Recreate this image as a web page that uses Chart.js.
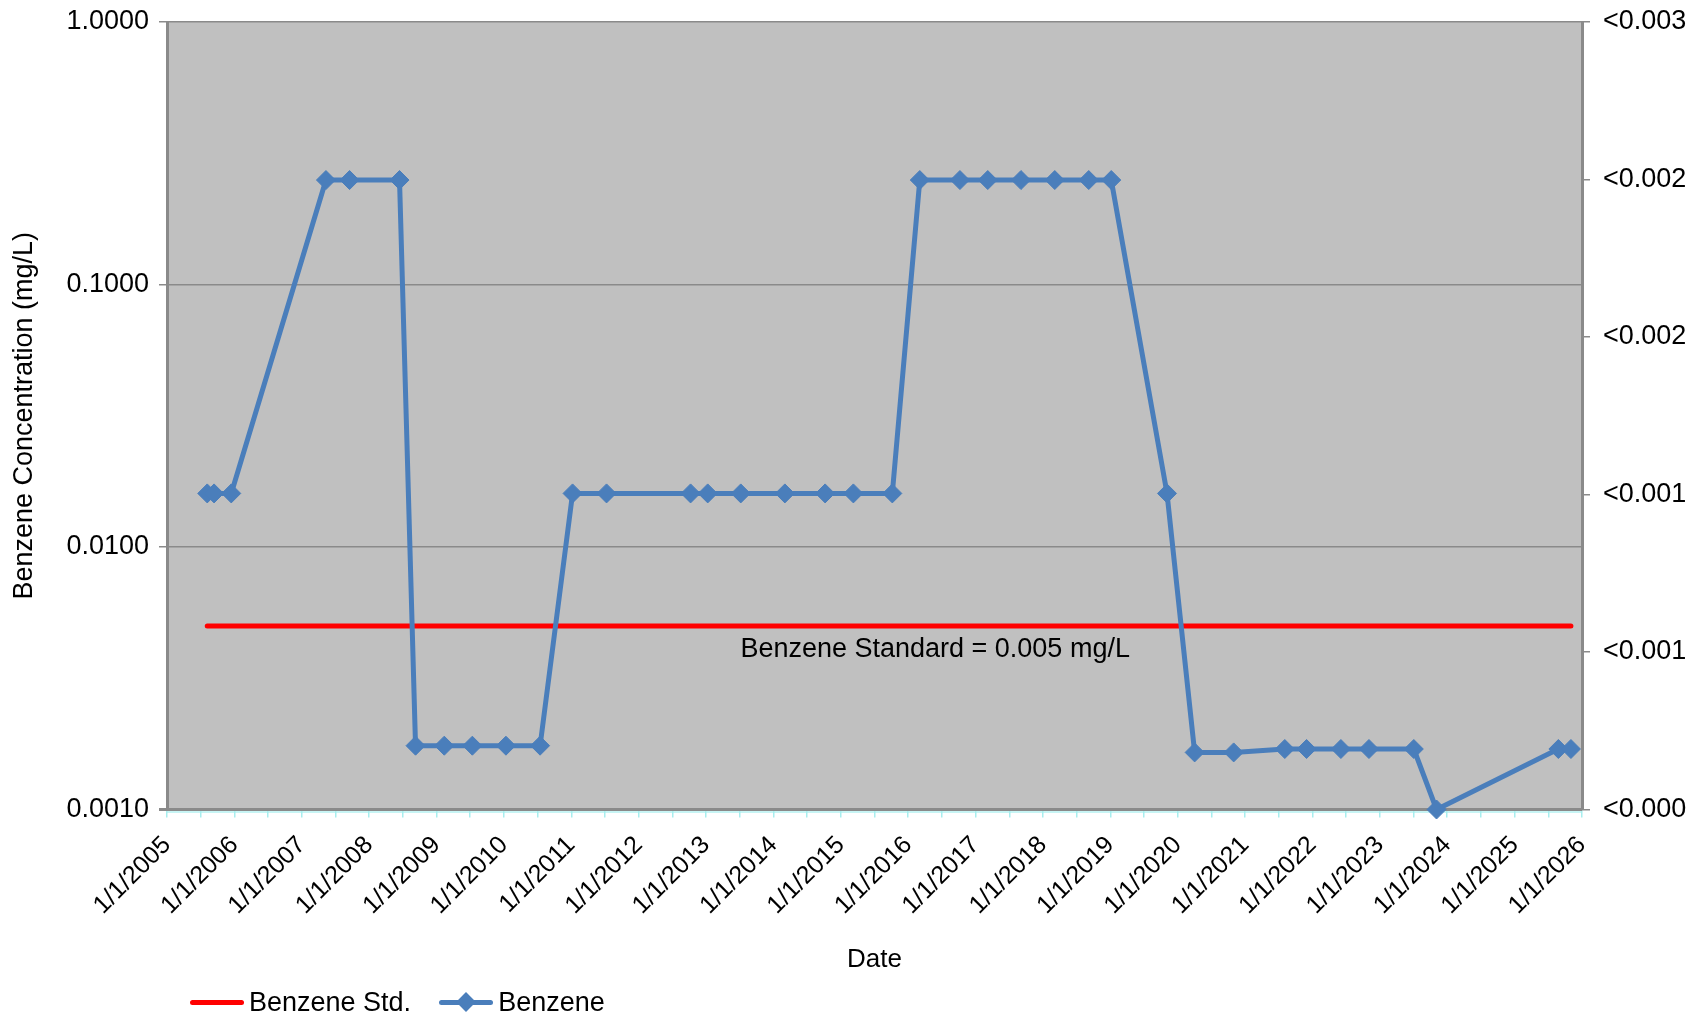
<!DOCTYPE html>
<html>
<head>
<meta charset="utf-8">
<title>Benzene Concentration</title>
<script src="https://cdn.jsdelivr.net/npm/chart.js@4.4.1/dist/chart.umd.min.js"></script>
<style>
  html, body { margin: 0; padding: 0; background: #fff; }
  #wrap { position: relative; width: 1702px; height: 1016px; }
  #legend { position: absolute; left: 190px; top: 987px; display: flex; align-items: center;
            font: 27px "Liberation Sans", Arial, sans-serif; line-height: 30px; color: #000; }
  .item { display: flex; align-items: center; margin-right: 28px; }
  .swatch { position: relative; width: 54px; height: 5px; border-radius: 3px; margin-right: 5px; }
  .diamond { position: absolute; left: 20px; top: -4.5px; width: 14px; height: 14px; transform: rotate(45deg); }
</style>
</head>
<body>
<div id="wrap">
  <canvas id="benzeneChart"></canvas>
  <div id="legend"></div>
</div>
<script>
// Fechas de muestreo y resultados (mg/L)
const sampleDates = [
  '2005-08-07', '2005-09-13', '2005-12-15',
  '2007-05-12', '2007-09-17', '2008-06-14',
  '2008-09-09', '2009-02-12', '2009-07-14', '2010-01-12', '2010-07-16',
  '2011-01-08', '2011-07-11', '2012-10-09', '2013-01-10', '2013-07-08',
  '2014-03-04', '2014-10-08', '2015-03-10', '2015-10-07',
  '2016-03-04', '2016-10-08', '2017-03-08', '2017-09-04', '2018-03-06', '2018-09-06', '2019-01-06',
  '2019-11-04',
  '2020-04-02', '2020-10-31',
  '2021-08-04', '2021-11-30', '2022-06-04', '2022-11-03', '2023-07-04',
  '2023-11-04',
  '2025-08-26', '2025-11-02'
];
const benzene = [
  0.016, 0.016, 0.016,
  0.25, 0.25, 0.25,
  0.00175, 0.00175, 0.00175, 0.00175, 0.00175,
  0.016, 0.016, 0.016, 0.016, 0.016,
  0.016, 0.016, 0.016, 0.016,
  0.25, 0.25, 0.25, 0.25, 0.25, 0.25, 0.25,
  0.016,
  0.00165, 0.00165,
  0.0017, 0.0017, 0.0017, 0.0017, 0.0017,
  0.001,
  0.0017, 0.0017
];
const stdDates = ['2005-08-07', '2025-11-02'];
const stdValues = [0.005, 0.005];

const years = [2005, 2006, 2007, 2008, 2009, 2010, 2011, 2012, 2013, 2014, 2015,
               2016, 2017, 2018, 2019, 2020, 2021, 2022, 2023, 2024, 2025, 2026];
const yTicks = [0.001, 0.01, 0.1, 1];
const y2Ticks = [0, 0.0006, 0.0012, 0.0018, 0.0024, 0.003];

// fecha -> año decimal
const toYear = s => {
  const d = Date.parse(s + 'T00:00:00Z');
  const y = new Date(d).getUTCFullYear();
  const start = Date.UTC(y, 0, 1), end = Date.UTC(y + 1, 0, 1);
  return y + (d - start) / (end - start);
};

const font = { family: '"Liberation Sans", Arial, sans-serif', size: 27 };
const xFont = { family: '"Liberation Sans", Arial, sans-serif', size: 25 };
const gray = '#8a8a8a';

const plotBackground = {
  id: 'plotBackground',
  beforeDraw(chart) {
    const { ctx, chartArea: a } = chart;
    ctx.save();
    ctx.fillStyle = '#c0c0c0';
    ctx.fillRect(a.left, a.top, a.right - a.left, a.bottom - a.top);
    // línea cian bajo el eje X
    ctx.strokeStyle = '#b4f0f0';
    ctx.lineWidth = 1.5;
    ctx.beginPath();
    ctx.moveTo(a.left, a.bottom + 2.5);
    ctx.lineTo(a.right, a.bottom + 2.5);
    ctx.stroke();
    ctx.restore();
  }
};

const standardLabel = {
  id: 'standardLabel',
  afterDatasetsDraw(chart) {
    const { ctx, scales } = chart;
    const x = scales.x.getPixelForValue(2016.4);
    const y = scales.y.getPixelForValue(stdValues[0]) + 24;
    ctx.save();
    ctx.font = '27px "Liberation Sans", Arial, sans-serif';
    ctx.fillStyle = '#000';
    ctx.textAlign = 'center';
    ctx.textBaseline = 'middle';
    ctx.fillText('Benzene Standard = 0.005 mg/L', x, y);
    ctx.restore();
  }
};

const chart = new Chart(document.getElementById('benzeneChart'), {
  type: 'line',
  data: {
    datasets: [
      {
        label: 'Benzene Std.',
        data: stdDates.map((d, i) => ({ x: toYear(d), y: stdValues[i] })),
        borderColor: '#ff0000',
        backgroundColor: '#ff0000',
        borderWidth: 5,
        borderCapStyle: 'round',
        pointRadius: 0,
        yAxisID: 'y',
        order: 2
      },
      {
        label: 'Benzene',
        data: sampleDates.map((d, i) => ({ x: toYear(d), y: benzene[i] })),
        borderColor: '#4a7ebb',
        backgroundColor: '#4a7ebb',
        borderWidth: 5,
        pointStyle: 'rectRot',
        pointRadius: 9.5,
        pointBorderWidth: 1,
        clip: false,
        yAxisID: 'y',
        order: 1
      }
    ]
  },
  options: {
    responsive: true,
    maintainAspectRatio: false,
    animation: false,
    layout: { padding: { top: 22, bottom: 36, left: 0, right: 0 } },
    plugins: {
      legend: { display: false },
      tooltip: { enabled: false }
    },
    scales: {
      x: {
        type: 'linear',
        min: years[0],
        max: years[years.length - 1],
        afterBuildTicks: s => {
          const half = years.slice(0, -1).map(y => y + 0.5);
          s.ticks = years.concat(half).sort((a, b) => a - b).map(v => ({ value: v }));
        },
        ticks: {
          autoSkip: false, minRotation: 45, maxRotation: 45, padding: 13,
          color: '#000', font: xFont,
          callback: v => Number.isInteger(v) ? '1/1/' + v : ''
        },
        grid: { drawOnChartArea: false, tickLength: 8, color: '#a8eeee', lineWidth: 1.5 },
        border: { display: false },
        title: { display: true, text: 'Date', color: '#000', font: { ...font, size: 26 }, padding: { top: 0, bottom: 5 } },
        afterFit: s => { s.height = 170.5; }
      },
      y: {
        type: 'logarithmic',
        position: 'left',
        min: 0.001,
        max: 1,
        afterBuildTicks: s => { s.ticks = yTicks.map(v => ({ value: v })); },
        ticks: { color: '#000', font, padding: 10, callback: v => Number(v).toFixed(4) },
        grid: {
          color: gray, tickLength: 8,
          lineWidth: c => (c.tick && c.tick.value === 0.001 ? 3 : 1.5)
        },
        border: { display: true, color: gray, width: 3 },
        title: { display: true, text: 'Benzene Concentration (mg/L)', color: '#000', font, padding: { top: 8, bottom: 0 } },
        afterFit: s => { s.width = 167; s.paddingTop = 0; s.paddingBottom = 0; }
      },
      y2: {
        type: 'linear',
        position: 'right',
        min: 0,
        max: 0.003,
        afterBuildTicks: s => { s.ticks = y2Ticks.map(v => ({ value: v })); },
        ticks: { color: '#000', font, padding: 13, callback: v => '<' + Number(v).toFixed(3) },
        grid: { drawOnChartArea: false, color: gray, lineWidth: 1.5, tickLength: 8 },
        border: { display: true, color: gray, width: 3 },
        afterFit: s => { s.width = 120; s.paddingTop = 0; s.paddingBottom = 0; }
      }
    }
  },
  plugins: [plotBackground, standardLabel]
});

// Leyenda HTML
const legendEl = document.getElementById('legend');
chart.data.datasets.forEach(ds => {
  const item = document.createElement('div');
  item.className = 'item';
  const sw = document.createElement('span');
  sw.className = 'swatch';
  sw.style.background = ds.borderColor;
  if (ds.pointStyle === 'rectRot') {
    const dm = document.createElement('span');
    dm.className = 'diamond';
    dm.style.background = ds.borderColor;
    sw.appendChild(dm);
  }
  const txt = document.createElement('span');
  txt.textContent = ds.label;
  item.appendChild(sw);
  item.appendChild(txt);
  legendEl.appendChild(item);
});
</script>
</body>
</html>
